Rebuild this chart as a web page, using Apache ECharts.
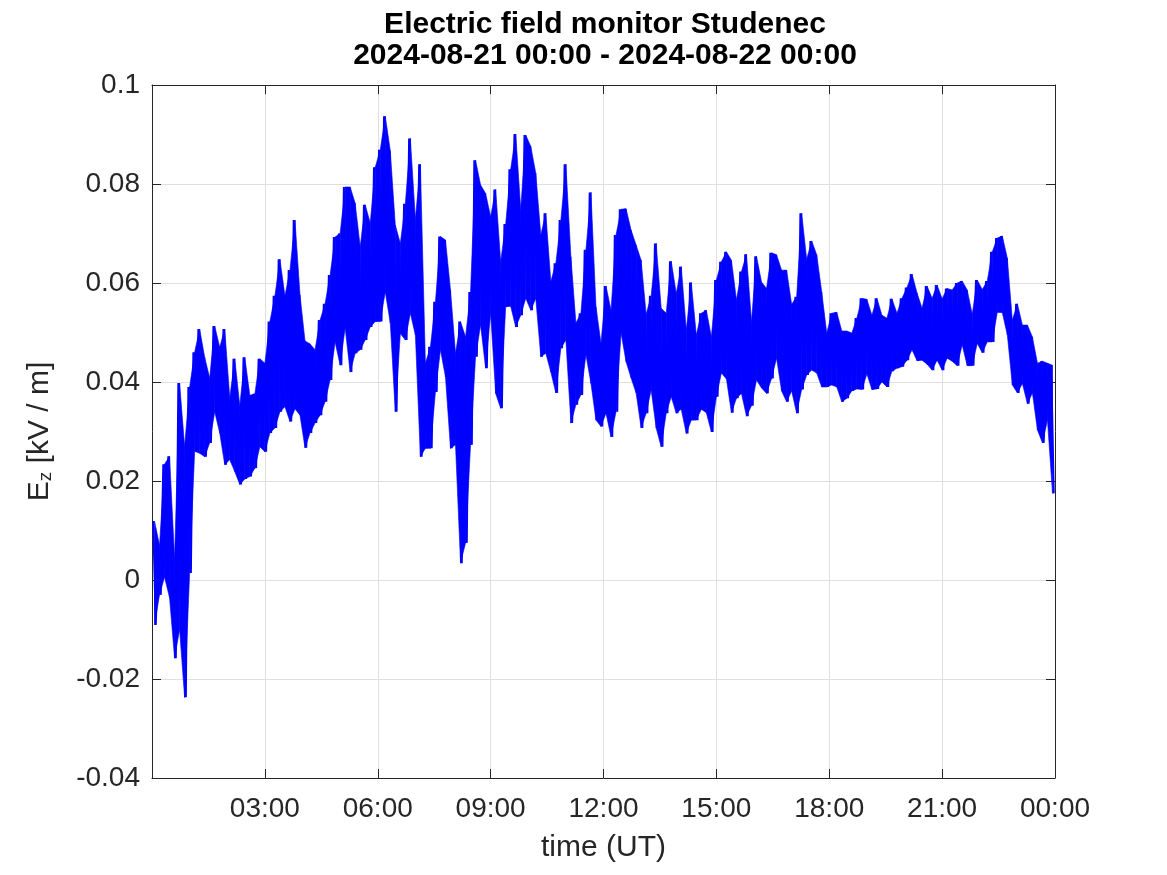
<!DOCTYPE html>
<html>
<head>
<meta charset="utf-8">
<script src="https://cdn.jsdelivr.net/npm/echarts@6/dist/echarts.min.js"></script>
<style>
html,body{margin:0;padding:0;background:#fff;}
#chart{width:1167px;height:875px;}
</style>
</head>
<body>
<div id="chart"></div>
<script>
// Title text
const titleLines = ['Electric field monitor Studenec', '2024-08-21 00:00 - 2024-08-22 00:00'];
// Sampling: one envelope bin every 8 minutes (180 bins over the day)
const binMinutes = 8;
// Upper envelope of Ez [kV/m] in each 8-minute bin
const hiVals = [
 0.0119,0.007,0.0234,0.025,0.0044,0.0398,0.027,0.039,0.046,0.0507,
 0.045,0.0408,0.0513,0.047,0.0507,0.0368,0.0447,0.0352,0.045,0.0373,
 0.0376,0.0447,0.0438,0.0522,0.0574,0.0648,0.0574,0.0626,0.0727,0.0576,
 0.0483,0.0477,0.0465,0.0525,0.0558,0.0616,0.0693,0.07,0.0794,0.0794,
 0.0761,0.0673,0.0758,0.0721,0.0834,0.0869,0.0937,0.0867,0.0717,0.068,
 0.076,0.0892,0.073,0.084,0.0438,0.0471,0.0562,0.0694,0.0687,0.0586,
 0.0458,0.0522,0.0491,0.0582,0.0848,0.0798,0.0781,0.0734,0.0789,0.0643,
 0.0719,0.083,0.0901,0.0749,0.0899,0.0876,0.0822,0.0697,0.0741,0.0603,
 0.064,0.0727,0.084,0.0653,0.0519,0.0539,0.0667,0.0783,0.0552,0.0478,
 0.0594,0.0545,0.0697,0.0749,0.075,0.0707,0.0677,0.0646,0.0537,0.0574,
 0.068,0.0549,0.0539,0.0644,0.0579,0.0633,0.0505,0.0601,0.0495,0.0539,
 0.0545,0.0491,0.0606,0.0643,0.0663,0.0646,0.0566,0.0623,0.0658,0.0522,
 0.0654,0.0602,0.0589,0.0661,0.0657,0.0626,0.0626,0.0557,0.0572,0.0741,
 0.0648,0.0685,0.0657,0.0582,0.0499,0.0539,0.0541,0.0503,0.0503,0.0499,
 0.0529,0.0569,0.0567,0.0535,0.0569,0.0535,0.0529,0.0568,0.0539,0.0569,
 0.0591,0.0618,0.058,0.0549,0.0594,0.0569,0.0596,0.0568,0.0589,0.0586,
 0.06,0.0604,0.0586,0.0537,0.0606,0.0587,0.0604,0.0663,0.0691,0.0695,
 0.065,0.0525,0.0558,0.0515,0.0515,0.0491,0.0438,0.0442,0.0438,0.0434
];
// Lower envelope of Ez [kV/m] in each 8-minute bin
const loVals = [
 -0.0091,-0.003,0.0006,-0.0036,-0.0158,-0.01,-0.0237,0.0014,0.026,0.0256,
 0.0249,0.0277,0.034,0.0297,0.0233,0.0243,0.0219,0.0193,0.0204,0.0209,
 0.0226,0.0269,0.0259,0.0297,0.0307,0.034,0.035,0.032,0.0346,0.0333,
 0.0267,0.0297,0.0317,0.0333,0.036,0.0404,0.0481,0.0434,0.0509,0.042,
 0.0458,0.0465,0.0485,0.0511,0.0522,0.0522,0.0582,0.0519,0.034,0.0498,
 0.0485,0.0539,0.0495,0.0249,0.0266,0.0266,0.038,0.0465,0.041,0.0266,
 0.0273,0.0034,0.0075,0.0273,0.0451,0.0515,0.0428,0.0539,0.0377,0.0347,
 0.0552,0.0553,0.0511,0.0535,0.0569,0.0545,0.0569,0.0451,0.0458,0.042,
 0.0378,0.0468,0.0485,0.0317,0.0354,0.0374,0.0455,0.0397,0.0323,0.031,
 0.0337,0.0289,0.034,0.0499,0.0441,0.0408,0.0378,0.0307,0.0337,0.0384,
 0.0307,0.0269,0.0337,0.037,0.0337,0.0345,0.0296,0.0323,0.0323,0.0345,
 0.0338,0.0299,0.037,0.0418,0.0406,0.0338,0.0367,0.0377,0.0331,0.0352,
 0.0404,0.0388,0.0377,0.0407,0.0448,0.0382,0.036,0.0382,0.0337,0.0385,
 0.0414,0.0424,0.0418,0.039,0.039,0.0394,0.039,0.036,0.0367,0.0382,
 0.0386,0.0385,0.0416,0.0385,0.0386,0.04,0.039,0.0422,0.0428,0.0431,
 0.0444,0.0465,0.0443,0.0444,0.0436,0.0424,0.0444,0.0424,0.0448,0.0442,
 0.0433,0.0475,0.0433,0.0433,0.0478,0.0459,0.0481,0.0481,0.0541,0.054,
 0.0495,0.0394,0.0378,0.0397,0.0356,0.0378,0.0303,0.0277,0.0323,0.0175
];
// Axis ticks
const xTickHours = [0, 3, 6, 9, 12, 15, 18, 21, 24];
const xTickLabels = ['', '03:00', '06:00', '09:00', '12:00', '15:00', '18:00', '21:00', '00:00'];
const yMin = -0.04, yMax = 0.1, yStep = 0.02;

// zigzag trace through the envelope of each bin
const trace = [];
// envelope rows [time, low, high] at the bin centres
const band = [];
hiVals.forEach(function (h, i) {
  const t0 = i * binMinutes;
  trace.push([(t0 + 2) / 60, h]);
  trace.push([(t0 + 6) / 60, loVals[i]]);
  band.push([(t0 + 4) / 60, loVals[i], h]);
});

const axisColor = '#262626';
const gridColor = '#dfdfdf';
const blue = '#0000ff';
const font = '"Liberation Sans", Arial, Helvetica, sans-serif';

function xFmt(v) {
  const idx = xTickHours.indexOf(Math.round(v));
  return idx >= 0 ? xTickLabels[idx] : '';
}
function yFmt(v) {
  return String(parseFloat(v.toFixed(2)));
}

// filled envelope between consecutive bins, placed through the axis scales
function renderBand(params, api) {
  const i = params.dataIndex;
  if (i >= band.length - 1) return null;
  const a = band[i], b = band[i + 1];
  const pts = [
    api.coord([a[0], a[1]]),
    api.coord([a[0], a[2]]),
    api.coord([b[0], b[2]]),
    api.coord([b[0], b[1]])
  ];
  return {
    type: 'polygon',
    shape: {points: pts},
    style: {fill: blue, stroke: blue, lineWidth: 0.6}
  };
}

const chart = echarts.init(document.getElementById('chart'), null, {renderer: 'canvas'});
chart.setOption({
  animation: false,
  backgroundColor: '#ffffff',
  title: {
    text: titleLines.join('\n'),
    left: 600,
    textAlign: 'center',
    top: 4,
    textStyle: {fontFamily: font, fontSize: 30, fontWeight: 'bold', color: '#000', lineHeight: 31}
  },
  grid: {left: 152, right: 112, top: 85, bottom: 97, containLabel: false, outerBoundsMode: 'none'},
  xAxis: [{
    type: 'value', min: 0, max: 24, interval: 3, position: 'bottom',
    axisLine: {show: true, onZero: false, lineStyle: {color: axisColor, width: 1}},
    axisTick: {show: true, inside: true, length: 9, lineStyle: {color: axisColor}},
    axisLabel: {fontFamily: font, fontSize: 28, color: axisColor, margin: 17, formatter: xFmt, showMinLabel: true, showMaxLabel: true},
    splitLine: {show: true, lineStyle: {color: gridColor, width: 1}},
    name: 'time (UT)', nameLocation: 'middle', nameGap: 55,
    nameTextStyle: {fontFamily: font, fontSize: 30, color: axisColor}
  }, {
    type: 'value', min: 0, max: 24, interval: 3, position: 'top',
    axisLine: {show: true, onZero: false, lineStyle: {color: axisColor, width: 1}},
    axisTick: {show: true, inside: true, length: 9, lineStyle: {color: axisColor}},
    axisLabel: {show: false}, splitLine: {show: false}
  }],
  yAxis: [{
    type: 'value', min: yMin, max: yMax, interval: yStep, position: 'left',
    axisLine: {show: true, onZero: false, lineStyle: {color: axisColor, width: 1}},
    axisTick: {show: true, inside: true, length: 9, lineStyle: {color: axisColor}},
    axisLabel: {fontFamily: font, fontSize: 28, color: axisColor, margin: 12, formatter: yFmt},
    splitLine: {show: true, lineStyle: {color: gridColor, width: 1}},
    name: '{e|E}{s|z}{e| [kV / m]}', nameLocation: 'middle', nameRotate: 90, nameGap: 97,
    nameTextStyle: {
      fontFamily: font, fontSize: 30, color: axisColor,
      rich: {
        e: {fontFamily: font, fontSize: 30, color: axisColor, lineHeight: 30, verticalAlign: 'top'},
        s: {fontFamily: font, fontSize: 19, color: axisColor, lineHeight: 10, verticalAlign: 'bottom'}
      }
    }
  }, {
    type: 'value', min: yMin, max: yMax, interval: yStep, position: 'right',
    axisLine: {show: true, onZero: false, lineStyle: {color: axisColor, width: 1}},
    axisTick: {show: true, inside: true, length: 9, lineStyle: {color: axisColor}},
    axisLabel: {show: false}, splitLine: {show: false}
  }],
  series: [{
    type: 'custom', xAxisIndex: 0, yAxisIndex: 0, data: band,
    renderItem: renderBand, silent: true, clip: true, z: 3,
    encode: {x: 0, y: [1, 2]}
  }, {
    type: 'line', xAxisIndex: 0, yAxisIndex: 0,
    data: trace, showSymbol: false, symbol: 'none', sampling: null,
    lineStyle: {color: blue, width: 2}, clip: true, z: 5
  }]
});
</script>
</body>
</html>
